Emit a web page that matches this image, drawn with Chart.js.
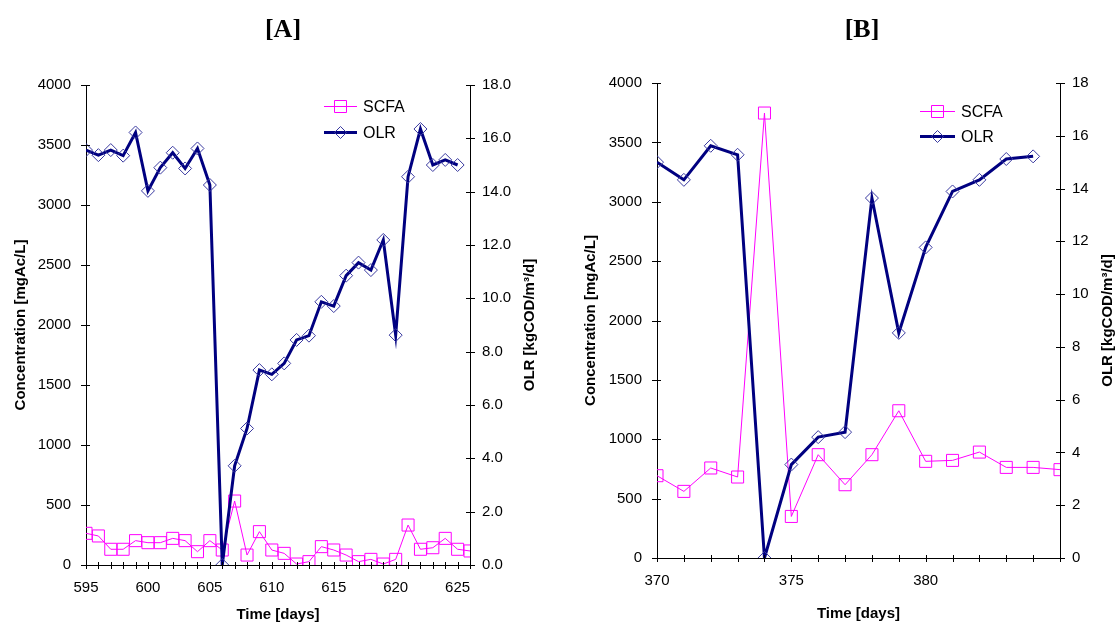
<!DOCTYPE html>
<html><head><meta charset="utf-8">
<script src="https://cdn.jsdelivr.net/npm/chart.js@4.4.0/dist/chart.umd.min.js"></script>
<style>
html,body{margin:0;padding:0;background:#fff;width:1119px;height:628px;overflow:hidden}
canvas{position:absolute;top:0}
#ca{left:0px}
#cb{left:560px}
</style></head><body>
<canvas id="ca" width="560" height="628"></canvas>
<canvas id="cb" width="559" height="628"></canvas>
<script>
// ---- Panel A data ----
const daysA = [595,596,597,598,599,600,601,602,603,604,605,606,607,608,609,610,611,612,613,614,615,616,617,618,619,620,621,622,623,624,625,626];
const scfaA = [264,242,131,131,203,186,186,222,203,111,203,125,533,83,278,125,97,8,28,153,125,83,28,47,8,47,333,131,144,222,131,117];
const olrDaysA = [595,596,597,598,599,600,601,602,603,604,605,606,607,608,609,610,611,612,613,614,615,616,617,618,619,620,621,622,623,624,625];
const olrA = [15.56,15.37,15.56,15.35,16.22,14.03,14.9,15.46,14.87,15.62,14.25,0,3.72,5.12,7.31,7.15,7.56,8.44,8.6,9.87,9.71,10.85,11.34,11.06,12.19,8.62,14.56,16.35,15.0,15.19,15.0];

// ---- Panel B data ----
const daysB = [370,371,372,373,374,375,376,377,378,379,380,381,382,383,384,385];
const scfaB = [693,561,758,682,3747,350,870,617,870,1240,814,822,892,763,763,744];
const olrDaysB = [370,371,372,373,374,375,376,377,378,379,380,381,382,383,384];
const olrB = [15.0,14.33,15.62,15.28,0,3.54,4.58,4.77,13.64,8.53,11.77,13.89,14.33,15.12,15.22];

const seriesNames = ['SCFA','OLR'];
const panelTitles = ['[A]','[B]'];
const xTitle = 'Time [days]';
const yTitle = 'Concentration [mgAc/L]';
const y1Title = 'OLR [kgCOD/m\u00B3/d]';

const MAG = '#FF00FF', NAVY = '#000080', DIA = '#3A3AA0';
const SANS = '"Liberation Sans", Arial, sans-serif';

const crossTicks = {
  id: 'crossTicks',
  afterDraw(chart) {
    const ctx = chart.ctx; ctx.save(); ctx.strokeStyle = '#000'; ctx.lineWidth = 1;
    ['x','y','y1'].forEach(id => {
      const s = chart.scales[id];
      s.ticks.forEach((t, i) => {
        const p = Math.round(s.getPixelForTick(i)) + 0.5;
        ctx.beginPath();
        if (id === 'x') { ctx.moveTo(p, s.top - 3); ctx.lineTo(p, s.top + 4); }
        else if (id === 'y') { ctx.moveTo(s.right - 5, p); ctx.lineTo(s.right + 4, p); }
        else { ctx.moveTo(s.left - 4, p); ctx.lineTo(s.left + 5, p); }
        ctx.stroke();
      });
    });
    ctx.restore();
  }
};

const overlay = {
  id: 'overlay',
  afterDraw(chart, args, o) {
    const ctx = chart.ctx; ctx.save();
    ctx.fillStyle = '#000';
    ctx.font = 'bold 26px "Liberation Serif", "Times New Roman", serif';
    ctx.textAlign = 'center'; ctx.textBaseline = 'middle';
    ctx.fillText(o.title, o.titleX, o.titleY);
    const ca = chart.chartArea;
    ctx.font = 'bold 15px ' + SANS;
    ctx.translate(o.y1TitleX, (ca.top + ca.bottom) / 2);
    ctx.rotate(-Math.PI / 2);
    ctx.fillText(y1Title, 0, 0);
    ctx.setTransform(1, 0, 0, 1, 0, 0);
    const items = [
      {name: seriesNames[0], color: MAG, mcolor: MAG, lw: 1, shape: 'sq'},
      {name: seriesNames[1], color: NAVY, mcolor: DIA, lw: 3, shape: 'dia'}
    ];
    items.forEach((it, k) => {
      const y = o.legY[k];
      ctx.strokeStyle = it.color; ctx.lineWidth = it.lw;
      ctx.beginPath(); ctx.moveTo(o.legX0, y); ctx.lineTo(o.legX1, y); ctx.stroke();
      const mx = (o.legX0 + o.legX1) / 2;
      ctx.lineWidth = 1; ctx.strokeStyle = it.mcolor;
      ctx.beginPath();
      if (it.shape === 'sq') { ctx.rect(mx - 6, y - 6, 12, 12); }
      else { ctx.moveTo(mx, y - 6); ctx.lineTo(mx + 6, y); ctx.lineTo(mx, y + 6); ctx.lineTo(mx - 6, y); ctx.closePath(); }
      ctx.stroke();
      ctx.fillStyle = '#000'; ctx.font = '16px ' + SANS;
      ctx.textAlign = 'left'; ctx.textBaseline = 'middle';
      ctx.fillText(it.name, o.legX1 + 6, y + 1);
    });
    ctx.restore();
  }
};

function pts(xs, ys) { return ys.map((v, i) => ({x: xs[i], y: v})); }

function makeChart(canvasId, cfg) {
  const tickFont = {family: SANS, size: 15};
  const titleFont = {family: SANS, size: 15, weight: 'bold'};
  return new Chart(document.getElementById(canvasId), {
    type: 'line',
    data: {
      datasets: [
        {label: seriesNames[0], data: pts(cfg.days, cfg.scfa), yAxisID: 'y', order: 1,
         borderColor: MAG, borderWidth: 1, backgroundColor: 'transparent',
         pointStyle: 'rect', pointRadius: 8.5, pointBorderColor: MAG, pointBorderWidth: 1,
         pointBackgroundColor: 'transparent', tension: 0},
        {label: seriesNames[1], data: pts(cfg.olrDays, cfg.olr), yAxisID: 'y1', order: 0,
         borderColor: NAVY, borderWidth: 3, backgroundColor: 'transparent',
         pointStyle: 'rectRot', pointRadius: 6.5, pointBorderColor: DIA, pointBorderWidth: 1,
         pointBackgroundColor: 'transparent', tension: 0}
      ]
    },
    options: {
      responsive: false, animation: false, devicePixelRatio: 1,
      layout: {padding: {left: 0, right: 0, top: cfg.top, bottom: 0}},
      plugins: {legend: {display: false}, tooltip: {enabled: false}, overlay: cfg.overlay},
      scales: {
        x: {type: 'linear', min: cfg.xmin, max: cfg.xmax,
            grid: {display: false, drawTicks: false}, border: {display: true, color: '#000', width: 1},
            ticks: {stepSize: 1, autoSkip: false, maxRotation: 0, font: tickFont, color: '#000', padding: 14,
                    callback: v => cfg.xLabel(v)},
            title: {display: true, text: xTitle, font: titleFont, color: '#000', padding: {top: 0, bottom: cfg.xTitlePad}},
            afterFit: s => { s.height = cfg.xH; }},
        y: {type: 'linear', position: 'left', min: 0, max: 4000,
            grid: {display: false, drawTicks: false}, border: {display: true, color: '#000', width: 1},
            ticks: {stepSize: 500, font: tickFont, color: '#000', padding: 15, callback: v => String(v)},
            title: {display: true, text: yTitle, font: titleFont, color: '#000', padding: {top: cfg.yTitlePad, bottom: 0}},
            afterFit: s => { s.width = cfg.yW; }},
        y1: {type: 'linear', position: 'right', min: 0, max: 18,
            grid: {display: false, drawTicks: false}, border: {display: true, color: '#000', width: 1},
            ticks: {stepSize: 2, font: tickFont, color: '#000', padding: 12, callback: cfg.y1Label},
            afterFit: s => { s.width = cfg.y1W; }}
      }
    },
    plugins: [crossTicks, overlay]
  });
}

makeChart('ca', {
  days: daysA, scfa: scfaA, olrDays: olrDaysA, olr: olrA,
  xmin: 595, xmax: 626, top: 85, xH: 63, yW: 86, y1W: 90, xTitlePad: 4, yTitlePad: 12,
  xLabel: v => (v % 5 === 0 ? String(v) : ''),
  y1Label: v => v.toFixed(1),
  overlay: {title: panelTitles[0], titleX: 283, titleY: 30, y1TitleX: 530,
            legX0: 324, legX1: 357, legY: [106.5, 132.5]}
});

makeChart('cb', {
  days: daysB, scfa: scfaB, olrDays: olrDaysB, olr: olrB,
  xmin: 370, xmax: 385, top: 83, xH: 70, yW: 97, y1W: 59, xTitlePad: 5, yTitlePad: 22,
  xLabel: v => (v % 5 === 0 && v !== 385 ? String(v) : ''),
  y1Label: v => String(v),
  overlay: {title: panelTitles[1], titleX: 302, titleY: 30, y1TitleX: 548,
            legX0: 360, legX1: 395, legY: [111.5, 136.5]}
});
</script>
</body></html>
